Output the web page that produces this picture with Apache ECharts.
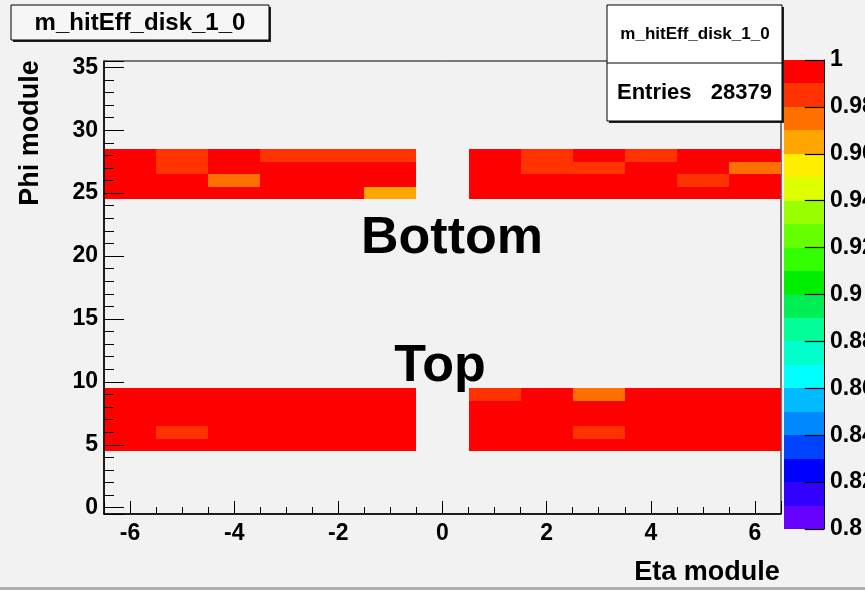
<!DOCTYPE html>
<html>
<head>
<meta charset="utf-8">
<script src="https://cdn.jsdelivr.net/npm/echarts@6/dist/echarts.min.js"></script>
<style>
html,body{margin:0;padding:0;background:#f2f2f2;}
#chart{width:865px;height:590px;}
</style>
</head>
<body>
<div id="chart"></div>
<script>
// ---- data ----
const etaBins = [-6, -5, -4, -3, -2, -1, 1, 2, 3, 4, 5, 6];
const phiBins = [5, 6, 7, 8, 9, 25, 26, 27, 28];
// efficiency per phi row (same order as phiBins), per eta column (same order as etaBins)
const effPhi5  = [0.995,0.995,0.995,0.995,0.995,0.995, 0.995,0.995,0.995,0.995,0.995,0.995];
const effPhi6  = [0.995,0.985,0.995,0.995,0.995,0.995, 0.995,0.995,0.985,0.995,0.995,0.995];
const effPhi7  = [0.995,0.995,0.995,0.995,0.995,0.995, 0.995,0.995,0.995,0.995,0.995,0.995];
const effPhi8  = [0.995,0.995,0.995,0.995,0.995,0.995, 0.995,0.995,0.995,0.995,0.995,0.995];
const effPhi9  = [0.995,0.995,0.995,0.995,0.995,0.995, 0.985,0.995,0.975,0.995,0.995,0.995];
const effPhi25 = [0.995,0.995,0.995,0.995,0.995,0.965, 0.995,0.995,0.995,0.995,0.995,0.995];
const effPhi26 = [0.995,0.995,0.975,0.995,0.995,0.995, 0.995,0.995,0.995,0.995,0.985,0.995];
const effPhi27 = [0.995,0.985,0.995,0.995,0.995,0.995, 0.995,0.985,0.985,0.995,0.995,0.975];
const effPhi28 = [0.995,0.985,0.995,0.985,0.985,0.985, 0.995,0.985,0.995,0.985,0.995,0.995];
const effRows = [effPhi5, effPhi6, effPhi7, effPhi8, effPhi9, effPhi25, effPhi26, effPhi27, effPhi28];

// colour scale (ROOT rainbow palette, 20 bands, bottom to top)
const zMin = 0.8, zMax = 1.0, zBands = 20;
const zTicks = [0.8, 0.82, 0.84, 0.86, 0.88, 0.9, 0.92, 0.94, 0.96, 0.98, 1.0];
const palette = ['#6600ff','#3300ff','#0000ff','#0044ff','#0088ff','#00bbff','#00ffff','#00ffcc','#00ff99','#00ee55',
                 '#00ee00','#33ff00','#66ff00','#99ff00','#ddff00','#ffee00','#ffa500','#ff7000','#ff3300','#ff0000'];
const histTitle = 'm_hitEff_disk_1_0';
const entries = 28379;

// ---- build ----
const cells = [];
phiBins.forEach((phi, r) => etaBins.forEach((eta, c) => cells.push([eta, phi, effRows[r][c]])));
const bandStep = (zMax - zMin) / zBands;
const bands = palette.map((col, i) => [i]);
const tickLines = zTicks.map(v => [{coord: [0.52, v]}, {coord: [1, v]}]);

function colorOf(v) {
  let i = Math.floor((v - zMin) / bandStep + 1e-9);
  i = Math.max(0, Math.min(zBands - 1, i));
  return palette[i];
}
function rectFrom(p1, p2) {
  const x1 = Math.round(p1[0]), y1 = Math.round(p1[1]), x2 = Math.round(p2[0]), y2 = Math.round(p2[1]);
  return {x: x1, y: y1, width: x2 - x1, height: y2 - y1};
}

const FONT = '"Liberation Sans", Arial, sans-serif';
const chart = echarts.init(document.getElementById('chart'));
const opt = {
  backgroundColor: '#f2f2f2',
  animation: false,
  grid: [
    {left: 104, right: 84, top: 61, bottom: 76, show: true, borderColor: '#000', borderWidth: 1,
     backgroundColor: 'transparent', containLabel: false, outerBoundsMode: 'none'},
    {left: 784, right: 41, top: 60, bottom: 61, containLabel: false, outerBoundsMode: 'none'}
  ],
  xAxis: [
    {type: 'value', gridIndex: 0, min: -6.5, max: 6.5, splitNumber: 6, z: 10,
     axisLine: {show: true, onZero: false, lineStyle: {color: '#000', width: 1.5}},
     axisTick: {show: true, inside: true, length: 13, lineStyle: {color: '#000'}},
     minorTick: {show: true, splitNumber: 4, length: 7, lineStyle: {color: '#000'}},
     splitLine: {show: false},
     axisLabel: {color: '#000', fontFamily: FONT, fontWeight: 'bold', fontSize: 23, margin: 8, hideOverlap: false,
                 formatter: v => (Math.abs(v % 2) < 1e-9 ? String(v) : '')}},
    {type: 'value', gridIndex: 1, min: 0, max: 1, show: false}
  ],
  yAxis: [
    {type: 'value', gridIndex: 0, min: -0.5, max: 35.5, splitNumber: 7, z: 10,
     axisLine: {show: true, onZero: false, lineStyle: {color: '#000', width: 1.5}},
     axisTick: {show: true, inside: true, length: 20, lineStyle: {color: '#000'}},
     minorTick: {show: true, splitNumber: 5, length: 10, lineStyle: {color: '#000'}},
     splitLine: {show: false},
     axisLabel: {color: '#000', fontFamily: FONT, fontWeight: 'bold', fontSize: 23, margin: 6, hideOverlap: false,
                 formatter: v => (Math.abs(v % 5) < 1e-9 ? String(v) : '')}},
    {type: 'value', gridIndex: 1, min: 0.8, max: 1.0, interval: 0.02, position: 'right', z: 10,
     axisLine: {show: true, onZero: false, lineStyle: {color: '#000', width: 1}},
     axisTick: {show: false},
     splitLine: {show: false},
     axisLabel: {color: '#000', fontFamily: FONT, fontWeight: 'bold', fontSize: 23, margin: 6, hideOverlap: false,
                 formatter: v => String(Number(v.toFixed(2)))}}
  ],
  series: [
    {type: 'custom', xAxisIndex: 0, yAxisIndex: 0, data: cells, clip: true, z: 2,
     renderItem: (params, api) => {
       const x = api.value(0), y = api.value(1), v = api.value(2);
       const shape = rectFrom(api.coord([x - 0.5, y + 0.5]), api.coord([x + 0.5, y - 0.5]));
       return {type: 'rect', shape: shape, style: {fill: colorOf(v)}};
     }},
    {type: 'custom', xAxisIndex: 1, yAxisIndex: 1, data: bands, z: 3,
     renderItem: (params, api) => {
       const i = api.value(0);
       const shape = rectFrom(api.coord([0, zMin + (i + 1) * bandStep]), api.coord([1, zMin + i * bandStep]));
       return {type: 'rect', shape: shape, style: {fill: palette[i]}};
     },
     markLine: {silent: true, symbol: ['none', 'none'], animation: false, z: 20,
                label: {show: false}, emphasis: {disabled: true},
                lineStyle: {color: '#000', width: 1.2, type: 'solid', opacity: 1},
                data: tickLines}}
  ],
  graphic: [
    {type: 'text', x: 452, y: 239, z: 50,
     style: {text: 'Bottom', font: 'bold 52px ' + FONT, fill: '#000', textAlign: 'center', textVerticalAlign: 'middle'}},
    {type: 'text', x: 440, y: 367, z: 50,
     style: {text: 'Top', font: 'bold 52px ' + FONT, fill: '#000', textAlign: 'center', textVerticalAlign: 'middle'}},
    {type: 'text', x: 707, y: 573, z: 50,
     style: {text: 'Eta module', font: 'bold 27px ' + FONT, fill: '#000', textAlign: 'center', textVerticalAlign: 'middle'}},
    {type: 'text', x: 31, y: 133, rotation: Math.PI / 2, z: 50,
     style: {text: 'Phi module', font: 'bold 27px ' + FONT, fill: '#000', textAlign: 'center', textVerticalAlign: 'middle'}},
    // title box
    {type: 'rect', z: 48, shape: {x: 13, y: 7, width: 258, height: 35}, style: {fill: '#222'}},
    {type: 'rect', z: 49, shape: {x: 11, y: 5, width: 258, height: 35}, style: {fill: '#f6f6f6', stroke: '#000', lineWidth: 1}},
    {type: 'text', x: 140, y: 23, z: 50,
     style: {text: histTitle, font: 'bold 24px ' + FONT, fill: '#000', textAlign: 'center', textVerticalAlign: 'middle'}},
    // stats box
    {type: 'rect', z: 48, shape: {x: 609, y: 7, width: 175, height: 116}, style: {fill: '#222'}},
    {type: 'rect', z: 49, shape: {x: 607, y: 5, width: 175, height: 116}, style: {fill: '#ffffff', stroke: '#000', lineWidth: 1}},
    {type: 'line', z: 50, shape: {x1: 607, y1: 63, x2: 782, y2: 63}, style: {stroke: '#000', lineWidth: 1}},
    {type: 'text', x: 695, y: 34, z: 50,
     style: {text: histTitle, font: 'bold 17px ' + FONT, fill: '#000', textAlign: 'center', textVerticalAlign: 'middle'}},
    {type: 'text', x: 617, y: 93, z: 50,
     style: {text: 'Entries', font: 'bold 22px ' + FONT, fill: '#000', textAlign: 'left', textVerticalAlign: 'middle'}},
    {type: 'text', x: 772, y: 93, z: 50,
     style: {text: String(entries), font: 'bold 22px ' + FONT, fill: '#000', textAlign: 'right', textVerticalAlign: 'middle'}},
    // bottom border line
    {type: 'line', z: 50, shape: {x1: 0, y1: 588.5, x2: 865, y2: 588.5}, style: {stroke: '#b0b0b0', lineWidth: 3}}
  ]
};
chart.setOption(opt);
</script>
</body>
</html>
